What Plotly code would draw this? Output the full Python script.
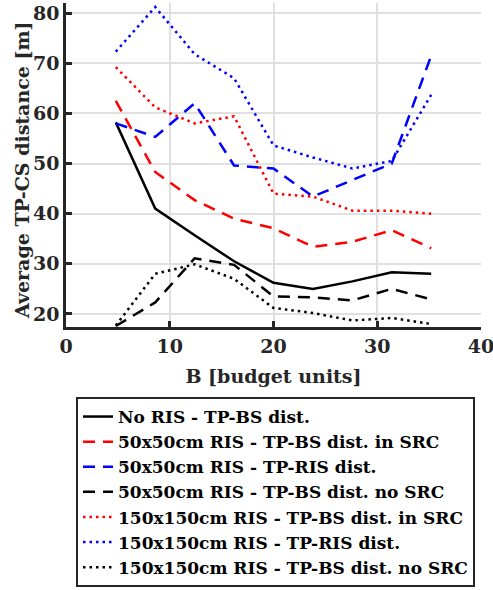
import plotly.graph_objects as go

budget = [4.8, 8.6, 12.4, 16.2, 20.0, 23.8, 27.6, 31.4, 35.2]

no_ris_bs = [58.2, 41.0, 35.7, 30.5, 26.2, 25.0, 26.5, 28.3, 28.0]
ris50_bs_src = [62.5, 48.3, 42.7, 39.0, 37.1, 33.4, 34.4, 36.7, 33.1]
ris50_ris = [58.0, 55.3, 62.0, 49.6, 49.0, 43.4, 46.7, 50.0, 71.5]
ris50_bs_nosrc = [17.6, 22.3, 31.1, 29.8, 23.5, 23.3, 22.7, 25.0, 22.9]
ris150_bs_src = [69.2, 61.2, 58.0, 59.4, 44.0, 43.4, 40.6, 40.6, 40.0]
ris150_ris = [72.3, 81.2, 71.8, 67.0, 53.6, 51.2, 49.0, 50.5, 63.7]
ris150_bs_nosrc = [17.7, 28.0, 29.9, 27.0, 21.2, 20.2, 18.7, 19.2, 18.0]

names = [
    "No RIS - TP-BS dist.",
    "50x50cm RIS - TP-BS dist. in SRC",
    "50x50cm RIS - TP-RIS dist.",
    "50x50cm RIS - TP-BS dist. no SRC",
    "150x150cm RIS - TP-BS dist. in SRC",
    "150x150cm RIS - TP-RIS dist.",
    "150x150cm RIS - TP-BS dist. no SRC",
]
series = [no_ris_bs, ris50_bs_src, ris50_ris, ris50_bs_nosrc,
          ris150_bs_src, ris150_ris, ris150_bs_nosrc]
colors = ["#000000", "#ff0000", "#0000ff", "#000000", "#ff0000", "#0000ff", "#000000"]
DASH = "12px,8px"
DOT = "2.5px,4px"
dashes = ["solid", DASH, DASH, DASH, DOT, DOT, DOT]

FONT = "DejaVu Serif"
Y_TITLE = "Average TP-CS distance [m]"

fig = go.Figure()
for n, s, c, d in zip(names, series, colors, dashes):
    fig.add_trace(go.Scatter(x=budget, y=s, mode="lines", name=n,
                             line=dict(color=c, width=2.5, dash=d)))

axis_common = dict(
    showgrid=True, gridcolor="#e0e0e0", gridwidth=2,
    showline=True, linecolor="#262626", linewidth=2.5,
    ticks="inside", ticklen=6, tickwidth=2.5, tickcolor="#262626",
    tickfont=dict(family=FONT, size=19, color="#262626", weight="bold"),
    zeroline=False, ticklabeloverflow="allow",
)

fig.update_layout(
    width=493, height=590,
    margin=dict(l=66, r=12, t=3, b=263, autoexpand=False),
    paper_bgcolor="white", plot_bgcolor="white",
    font=dict(family=FONT, color="#262626"),
    xaxis=dict(range=[0, 40], tickvals=[0, 10, 20, 30, 40],
               title=dict(text="B [budget units]",
                          font=dict(family=FONT, size=19, color="#262626", weight="bold")),
               **axis_common),
    yaxis=dict(range=[17.4, 82], tickvals=[20, 30, 40, 50, 60, 70, 80],
               ticklabelstandoff=0,
               **axis_common),
    legend=dict(
        xref="container", yref="container",
        x=76 / 493, y=1 - 397 / 590, xanchor="left", yanchor="top",
        bordercolor="#262626", borderwidth=2, bgcolor="white",
        font=dict(family=FONT, size=17, color="#000000", weight="bold"),
        itemwidth=30, tracegroupgap=0,
    ),
    showlegend=True,
    annotations=[dict(
        text=Y_TITLE, textangle=-90, showarrow=False,
        xref="paper", yref="paper", x=(22 - 66) / 415, y=(327 - 170) / 324,
        xanchor="center", yanchor="middle",
        font=dict(family=FONT, size=19, color="#262626", weight="bold"),
    )],
)

fig.write_html("out.html")
